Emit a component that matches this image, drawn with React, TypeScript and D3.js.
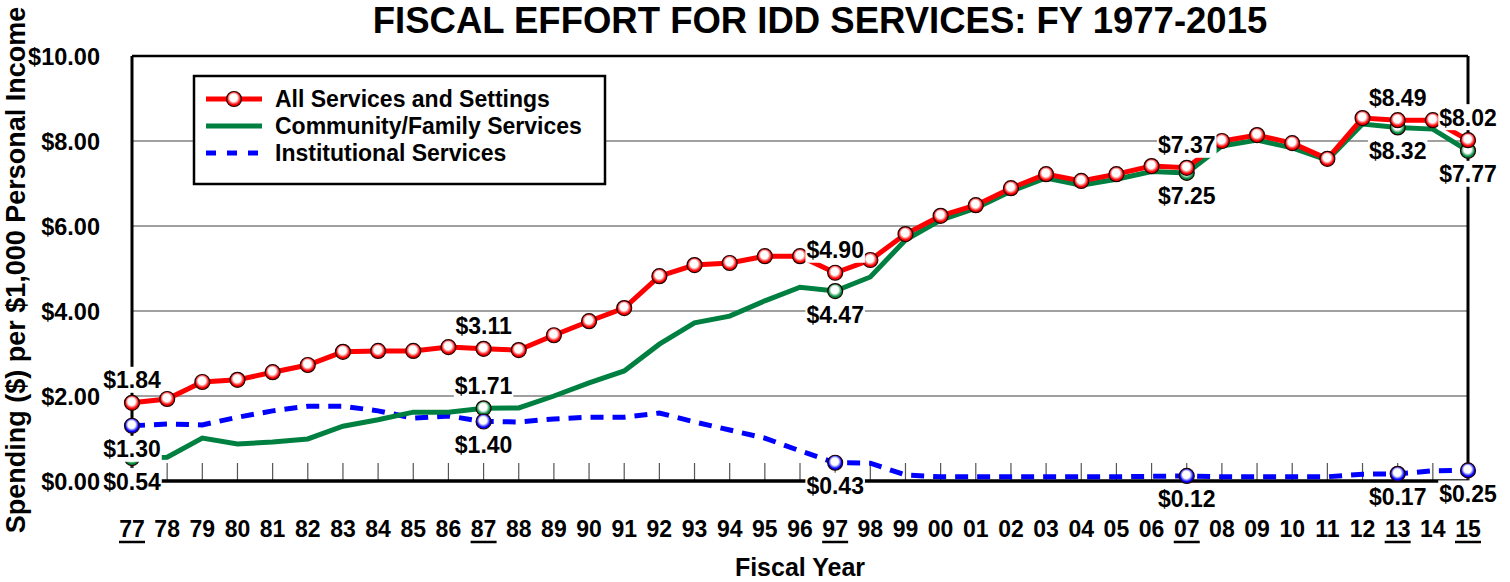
import React from 'react';
import * as d3 from 'd3';

const years = ['77','78','79','80','81','82','83','84','85','86','87','88','89','90','91','92','93','94','95','96','97','98','99','00','01','02','03','04','05','06','07','08','09','10','11','12','13','14','15'];

const allServices = [1.84,1.93,2.33,2.38,2.56,2.73,3.04,3.06,3.06,3.15,3.11,3.08,3.43,3.76,4.07,4.82,5.08,5.13,5.29,5.29,4.90,5.20,5.81,6.24,6.49,6.89,7.22,7.06,7.22,7.41,7.37,8.00,8.14,7.95,7.58,8.54,8.49,8.49,8.02];
const community = [0.54,0.56,1.01,0.87,0.92,0.99,1.29,1.44,1.62,1.62,1.71,1.72,2.00,2.31,2.59,3.22,3.72,3.88,4.24,4.56,4.47,4.80,5.67,6.14,6.42,6.82,7.13,6.96,7.10,7.28,7.25,7.88,8.02,7.84,7.55,8.40,8.32,8.28,7.77];
const institutional = [1.30,1.34,1.32,1.50,1.65,1.76,1.76,1.65,1.48,1.53,1.40,1.39,1.46,1.50,1.50,1.60,1.39,1.20,1.01,0.71,0.43,0.42,0.14,0.10,0.10,0.10,0.10,0.10,0.10,0.11,0.12,0.10,0.10,0.10,0.10,0.16,0.17,0.24,0.25];

const yTicks = [0, 2, 4, 6, 8, 10];
const keyYears = ['77','87','97','07','13','15'];
const legendNames = ['All Services and Settings', 'Community/Family Services', 'Institutional Services'];

const FONT = '"Liberation Sans", Arial, sans-serif';

const W = 1510, H = 582;
const left = 132, right = 1468, top = 56, bottom = 481;

const x = d3.scalePoint<string>().domain(years).range([left, right]);
const y = d3.scaleLinear().domain([0, 10]).range([bottom, top]);

const line = d3.line<number>().x((_, i) => x(years[i]) as number).y(d => y(d));

const fmt = (v: number) => '$' + v.toFixed(2);
const textW = (s: string, fs: number) =>
  s.split('').reduce((a, c) => a + (c === '.' || c === ',' ? 0.278 : 0.556), 0) * fs;

// all-services labels above the point, the other two below
const labelSpec = [
  { series: 'all', pos: 'above' },
  { series: 'com', pos: 'below' },
  { series: 'inst', pos: 'below' },
];

const seriesMap: Record<string, number[]> = { all: allServices, com: community, inst: institutional };

const Marker = ({ cx, cy, grad }: { cx: number; cy: number; grad: string }) => (
  <circle cx={cx} cy={cy} r={7.5} fill={`url(#${grad})`} stroke="#220000" strokeWidth={1.2} />
);

const Label = ({ cx, cy, text }: { cx: number; cy: number; text: string }) => {
  const fs = 23;
  const w = textW(text, fs) + 2;
  return (
    <g>
      <rect x={cx - w / 2} y={cy - 13} width={w} height={26} fill="white" />
      <text x={cx} y={cy + 8.5} textAnchor="middle" fontSize={fs} fontWeight="bold" fontFamily={FONT}>{text}</text>
    </g>
  );
};

export default function App() {
  const labels: { cx: number; cy: number; text: string }[] = [];
  keyYears.forEach(yr => {
    const i = years.indexOf(yr);
    labelSpec.forEach(s => {
      const v = seriesMap[s.series][i];
      let pos = s.pos;
      if (yr === '87' && s.series === 'com') pos = 'above';
      const cx = x(yr) as number;
      const cy = y(v) + (pos === 'above' ? -23 : 23);
      labels.push({ cx, cy, text: fmt(v) });
    });
  });

  return (
    <svg width={W} height={H} style={{ position: 'absolute', left: 0, top: 0 }}>
      <defs>
        {[['gRed', '#ff0000'], ['gGreen', '#008a3c'], ['gBlue', '#0000ff']].map(([id, c]) => (
          <radialGradient key={id} id={id} cx="50%" cy="45%" r="55%" fx="45%" fy="40%">
            <stop offset="0%" stopColor="white" />
            <stop offset="45%" stopColor="white" />
            <stop offset="80%" stopColor={c} />
            <stop offset="100%" stopColor={c} />
          </radialGradient>
        ))}
      </defs>
      <rect width={W} height={H} fill="white" />

      <text x={820} y={33} textAnchor="middle" fontSize={36.5} fontWeight="bold" fontFamily={FONT}>
        FISCAL EFFORT FOR IDD SERVICES: FY 1977-2015
      </text>

      {/* grid */}
      {yTicks.filter(t => t > 0 && t < 10).map(t => (
        <line key={t} x1={left} x2={right} y1={y(t)} y2={y(t)} stroke="#808080" strokeWidth={1.5} />
      ))}
      {/* frame */}
      <line x1={left} x2={right} y1={top} y2={top} stroke="black" strokeWidth={2.5} />
      <line x1={left} x2={left} y1={top} y2={bottom} stroke="black" strokeWidth={3} />
      <line x1={right} x2={right} y1={top} y2={bottom} stroke="black" strokeWidth={3} />
      {years.map(yr => (
        <line key={yr} x1={x(yr)} x2={x(yr)} y1={bottom - 18} y2={bottom} stroke="#555" strokeWidth={1.2} />
      ))}
      <line x1={left} x2={right} y1={bottom} y2={bottom} stroke="black" strokeWidth={3.5} />

      {/* y tick labels */}
      {yTicks.map(t => (
        <text key={t} x={100} y={y(t) + 8.5} textAnchor="end" fontSize={23.5} fontWeight="bold" fontFamily={FONT}>{fmt(t)}</text>
      ))}
      {/* x tick labels */}
      {years.map(yr => (
        <g key={yr}>
          <text x={x(yr)} y={537} textAnchor="middle" fontSize={23} fontWeight="bold" fontFamily={FONT}>{yr}</text>
          {keyYears.includes(yr) && (
            <line x1={(x(yr) as number) - 13} x2={(x(yr) as number) + 13} y1={542} y2={542} stroke="black" strokeWidth={2.5} />
          )}
        </g>
      ))}
      <text x={800} y={576} textAnchor="middle" fontSize={25} fontWeight="bold" fontFamily={FONT}>Fiscal Year</text>
      <text transform={`translate(25,270) rotate(-90)`} textAnchor="middle" fontSize={27} fontWeight="bold" fontFamily={FONT}>
        Spending ($) per $1,000 Personal Income
      </text>

      {/* series */}
      <path d={line(institutional) || ''} fill="none" stroke="#0000ff" strokeWidth={5} strokeDasharray="13,9" />
      <path d={line(community) || ''} fill="none" stroke="#008040" strokeWidth={5} />
      <path d={line(allServices) || ''} fill="none" stroke="#ff0000" strokeWidth={5} />

      {keyYears.map(yr => {
        const i = years.indexOf(yr);
        return <Marker key={'c' + yr} cx={x(yr) as number} cy={y(community[i])} grad="gGreen" />;
      })}
      {allServices.map((v, i) => (
        <Marker key={'a' + i} cx={x(years[i]) as number} cy={y(v)} grad="gRed" />
      ))}
      {keyYears.map(yr => {
        const i = years.indexOf(yr);
        return <Marker key={'b' + yr} cx={x(yr) as number} cy={y(institutional[i])} grad="gBlue" />;
      })}

      {labels.map((l, i) => <Label key={i} {...l} />)}

      {/* legend */}
      <g>
        <rect x={194} y={76} width={411} height={108} fill="white" stroke="black" strokeWidth={2.5} />
        <line x1={206} x2={262} y1={99} y2={99} stroke="#ff0000" strokeWidth={5} />
        <Marker cx={234} cy={99} grad="gRed" />
        <line x1={206} x2={262} y1={126} y2={126} stroke="#008040" strokeWidth={5} />
        <line x1={206} x2={262} y1={153} y2={153} stroke="#0000ff" strokeWidth={5} strokeDasharray="10,11" />
        {legendNames.map((t, i) => (
          <text key={t} x={275} y={107 + i * 27} fontSize={23} fontWeight="bold" fontFamily={FONT}>{t}</text>
        ))}
      </g>
    </svg>
  );
}
